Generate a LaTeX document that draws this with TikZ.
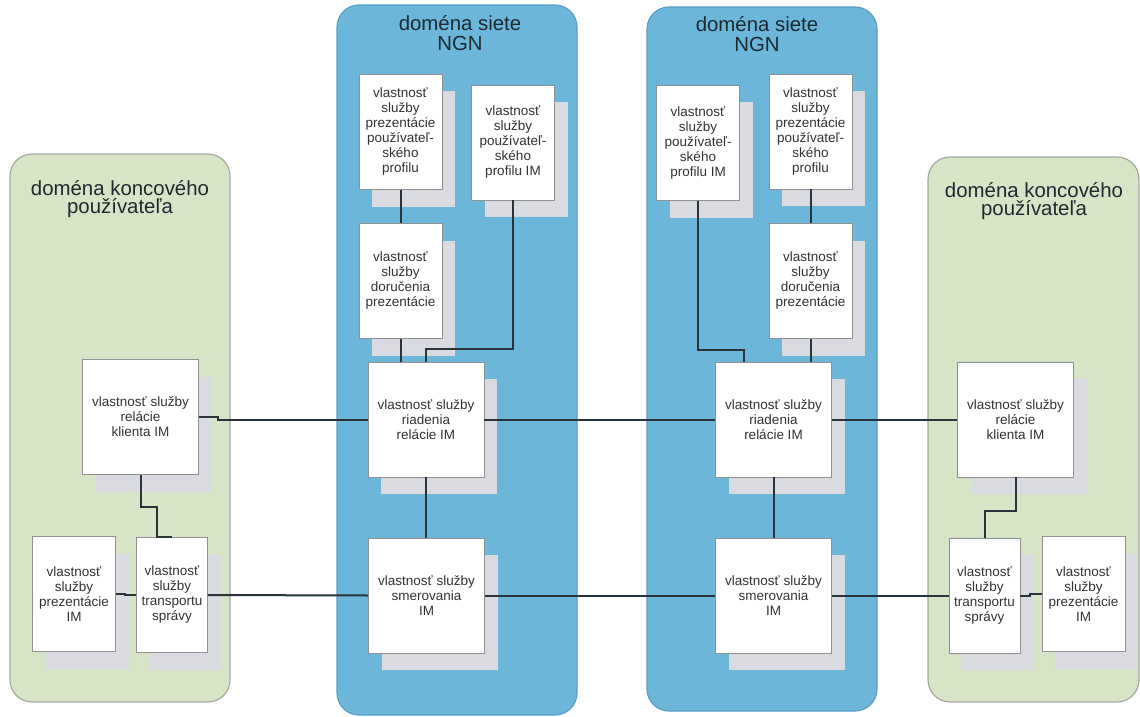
\documentclass[tikz,border=0pt]{standalone}
\usepackage{fontspec}
\setmainfont{Liberation Sans}
\usetikzlibrary{shadows,calc}
\definecolor{ngnblue}{HTML}{6CB6DA}
\definecolor{ngnedge}{HTML}{5A9FC6}
\definecolor{usergreen}{HTML}{D7E4C5}
\definecolor{useredge}{HTML}{A3AAA0}
\definecolor{shadowgray}{HTML}{D9DBE0}
\definecolor{boxedge}{HTML}{8E9092}
\definecolor{linkc}{HTML}{28333A}
\definecolor{titletext}{HTML}{1E2A30}
\definecolor{svctext}{HTML}{333333}
\begin{document}
\begin{tikzpicture}[x=0.5pt,y=-0.5pt,
  domainNGN/.style={draw=ngnedge, fill=ngnblue, line width=0.6pt, rounded corners=11pt},
  domainUser/.style={draw=useredge, fill=usergreen, line width=0.6pt, rounded corners=11pt},
  domtitle/.style={font=\fontsize{10.2}{9}\selectfont, text=titletext, align=center, inner sep=0pt},
  ngntitle/.style={font=\fontsize{10.2}{10}\selectfont, text=titletext, align=center, inner sep=0pt},
  svc/.style={draw=boxedge, fill=white, line width=0.4pt, inner sep=1pt, align=center,
    font=\fontsize{6.75}{7.5}\selectfont, text=svctext,
    drop shadow={shadow xshift=6.5pt, shadow yshift=-8.5pt, fill=shadowgray, opacity=1}},
  wide/.style={minimum width=58pt, minimum height=57.5pt},
  narrow/.style={minimum width=41.5pt, minimum height=57.5pt},
  slim/.style={minimum width=35.5pt, minimum height=57.5pt},
  link/.style={draw=linkc, line width=1pt}
]
\useasboundingbox (0,0) rectangle (1140,717);

% domains
\path[domainUser] (10,154) rectangle (230,702);
\path[domainNGN] (337,5) rectangle (577,715);
\path[domainNGN] (647,7) rectangle (877,711);
\path[domainUser] (928,157) rectangle (1139,702);

\node[domtitle] (tUserL) at (120,199) {doména koncového\\používateľa};
\node[ngntitle] (tNgn1) at (460,33) {doména siete\\NGN};
\node[ngntitle] (tNgn2) at (757,34) {doména siete\\NGN};
\node[domtitle] (tUserR) at (1034,201) {doména koncového\\používateľa};

% end user domain, left
\node[svc,wide] (klientL) at (140.5,417) {vlastnosť služby\\relácie\\klienta IM};
\node[svc,narrow] (prezL) at (74,594) {vlastnosť\\služby\\prezentácie\\IM};
\node[svc,slim] (transL) at (172,595) {vlastnosť\\služby\\transportu\\správy};

% NGN domain 1
\node[svc,narrow] (profPrez1) at (400.5,132) {vlastnosť\\služby\\prezentácie\\používateľ-\\ského\\profilu};
\node[svc,narrow] (profIM1) at (513,142.5) {vlastnosť\\služby\\používateľ-\\ského\\profilu IM};
\node[svc,narrow] (dor1) at (400.5,281) {vlastnosť\\služby\\doručenia\\prezentácie};
\node[svc,wide] (riad1) at (426,419.5) {vlastnosť služby\\riadenia\\relácie IM};
\node[svc,wide] (smer1) at (426.5,595.5) {vlastnosť služby\\smerovania\\IM};

% NGN domain 2
\node[svc,narrow] (profIM2) at (698,143) {vlastnosť\\služby\\používateľ-\\ského\\profilu IM};
\node[svc,narrow] (profPrez2) at (810.5,131.5) {vlastnosť\\služby\\prezentácie\\používateľ-\\ského\\profilu};
\node[svc,narrow] (dor2) at (810.5,281) {vlastnosť\\služby\\doručenia\\prezentácie};
\node[svc,wide] (riad2) at (773.5,419.5) {vlastnosť služby\\riadenia\\relácie IM};
\node[svc,wide] (smer2) at (773.5,595.5) {vlastnosť služby\\smerovania\\IM};

% end user domain, right
\node[svc,wide] (klientR) at (1015.5,419.5) {vlastnosť služby\\relácie\\klienta IM};
\node[svc,slim] (transR) at (984.5,595.5) {vlastnosť\\služby\\transportu\\správy};
\node[svc,narrow] (prezR) at (1083.5,594) {vlastnosť\\služby\\prezentácie\\IM};

% session control chain
\draw[link] (klientL.east) -- ++(19,0) |- (riad1.west);
\draw[link] (riad1.east) -- (riad2.west);
\draw[link] (riad2.east) -- (klientR.west);

% routing chain
\draw[link] (transL.east) -- (smer1.west);
\draw[link] (smer1.east) -- (smer2.west);
\draw[link] (smer2.east) -- (transR.west);

% vertical links
\draw[link] (riad1.south) -- (riad1.south |- smer1.north);
\draw[link] (riad2.south) -- (riad2.south |- smer2.north);
\draw[link] (prezL.east) -- ++(9,0) |- (transL.west);
\draw[link] (transR.east) -- ++(10,0) |- (prezR.west);
\draw[link] (klientL.south) -- ++(0,32) -| ($(transL.north)+(-15,0)$) -- (transL.north);
\draw[link] (klientR.south) -- ++(0,34) -| (transR.north);

% presence links, NGN 1
\draw[link] (profPrez1.south) -- (dor1.north);
\draw[link] (dor1.south) -- (dor1.south |- riad1.north);
\draw[link] (profIM1.south) -- ++(0,149) -| (riad1.north);

% presence links, NGN 2
\draw[link] (profPrez2.south) -- (dor2.north);
\draw[link] (dor2.south) -- (dor2.south |- riad2.north);
\draw[link] (profIM2.south) -- ++(0,149) -| ($(riad2.north)+(-29.5,0)$);
\end{tikzpicture}
\end{document}
